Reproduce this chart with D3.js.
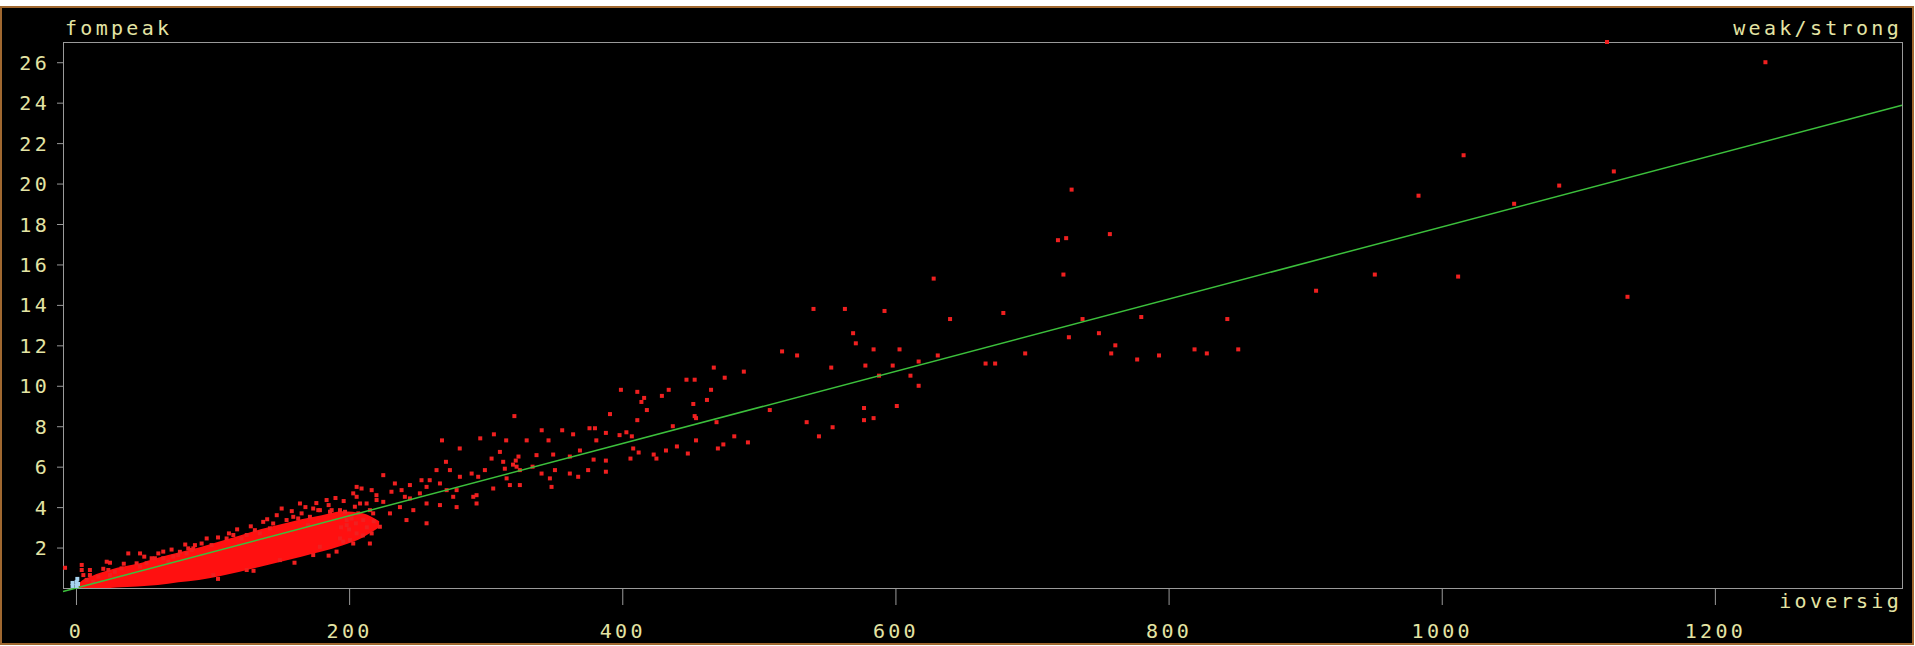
<!DOCTYPE html>
<html>
<head>
<meta charset="utf-8">
<script src="https://cdn.jsdelivr.net/npm/d3@7"></script>
<style>
  body { margin: 0; background: #fff; }
  text { font-family: "DejaVu Sans Mono", monospace; font-size: 20px; letter-spacing: 3.3px; fill: #e4e4a4; }
</style>
</head>
<body>
<div id="container"></div>
<script>
// strong reflections: ioversig (x) vs fompeak (y)
var strongX = [-8, 4.2, 4.2, 5.4, 7.8, 10.2, 10.2, 12.7, 16.3, 20, 22.5, 23.7, 24.9, 24.9, 28.5, 33.4, 35, 38.3, 44.4, 46.9, 46.9, 50, 51.7,
  55.4, 57.8, 60.3, 63.9, 63.9, 67.6, 70, 71.2, 74.9, 76.1, 80, 81, 82.2, 84.7, 85.9, 87.1, 92, 95.7, 99.3, 100.5, 104, 104, 110.3, 112, 115.2, 118, 121.3,
  125, 125, 128, 130, 131, 134.7, 137.1, 140, 142, 144.4, 147, 149.3, 150.6, 154.2, 158, 159.1, 160, 162.7, 164, 165.2, 168, 170, 171.3, 173.7, 173.7, 176, 177.4, 178.6,
  178.6, 183.5, 185, 185, 186, 187.2, 190, 190.8, 193.3, 193.3, 194, 195.7, 196, 197, 198.2, 198.2, 200, 200.6, 201.8, 203, 203, 204.2, 205, 205.5,
  205.5, 205.5, 206.7, 208, 209.1, 210, 210.3, 212.8, 213, 215.2, 215.2, 216.5, 216.5, 217.6, 218, 220, 220.1, 222.5,
  225, 225, 229.9, 231, 233.5, 237.2, 238.4, 240.8, 242, 244.5, 244.5, 247, 251.8, 253, 256.7, 256.7, 256.7, 259, 264, 266.5,
  266.5, 268, 270.9, 271.4, 273.8, 276.2, 278.7, 278.7, 281, 281.1, 289.7, 290.9, 293.3, 293.3, 294.5, 296, 299.4, 304.3, 305.5, 306,
  310.4, 312.8, 314, 315, 315.3, 317.7, 320, 321, 322, 322.6, 324, 325, 325, 330, 334.3, 337.2, 340.9, 341, 346, 347,
  348.2, 349.4, 350.7, 356, 361.6, 361.6, 364, 367.7, 369, 375, 376, 379, 380, 381,
  388, 388, 388, 391, 398, 399, 403, 406, 407, 408, 411, 411, 412, 414, 416, 418, 423, 425, 429, 432,
  434, 437, 440, 447, 448, 452, 453, 453, 454, 454, 462, 465, 467, 469, 470, 474, 475, 482, 489, 492,
  508, 517, 528, 535, 540, 544, 553, 554, 563, 569, 571, 577, 577, 578, 584, 584, 588, 592, 598, 601,
  603, 611, 617, 617, 628, 631, 640, 666, 673, 679, 695, 719, 723, 725, 727, 729, 737, 749, 757, 758,
  761, 777, 780, 793, 819, 828, 843, 851, 908, 951, 983, 1012, 1016, 1053, 1086, 1121, 1126, 1136, 1237];
var strongY = [1.0, 1.14, 0.89, 0.64, 0.4, 0.89, 0.64, 0.31, 0.56, 0.95, 1.3, 0.89, 0.64, 1.25, 0.8, 0.97, 1.2, 1.71, 1.22, 1.71, 1.05, 1.55, 1.22,
  1.47, 1.47, 1.71, 1.47, 1.8, 1.3, 1.9, 1.55, 1.63, 1.79, 2.15, 1.71, 1.96, 1.88, 1.96, 2.12, 2.2, 2.45, 2.12, 0.64, 2.5, 0.45, 2.45, 2.7, 2.62, 2.9, 2.45,
  2.62, 0.89, 3.05, 0.85, 2.86, 2.7, 3.27, 3.4, 2.95, 3.19, 3.6, 1.38, 3.93, 3.36, 3.8, 3.52, 1.25, 3.44, 4.18, 3.69, 4.0, 3.11, 3.52, 3.93, 1.63, 4.2, 3.85, 3.85,
  2.04, 4.35, 4.1, 1.6, 3.77, 3.85, 4.45, 1.8, 3.85, 2.45, 3.0, 2.29, 4.3, 3.77, 3.36, 3.11, 2.9, 2.37, 3.44, 2.2, 4.68, 4.02, 3.2, 4.51,
  5.0, 2.7, 3.69, 4.18, 4.92, 2.6, 3.36, 4.18, 3.0, 3.85, 2.2, 4.84, 2.7, 3.69, 3.3, 4.59, 4.35, 3.03,
  5.58, 4.26, 3.69, 4.76, 5.17, 4.0, 4.84, 4.51, 3.36, 5.09, 4.43, 3.85, 4.68, 5.33, 5.0, 4.18, 3.2, 5.33, 5.83, 5.17,
  4.1, 7.3, 6.24, 4.84, 5.83, 4.51, 4.84, 4.0, 6.9, 5.5, 5.66, 4.51, 4.59, 4.18, 5.5, 7.4, 5.83, 6.4, 4.92, 7.6,
  6.73, 6.24, 5.9, 7.3, 5.42, 5.09, 6.1, 8.5, 6.3, 6.0, 6.5, 5.83, 5.09, 7.3, 6.0, 6.57, 5.66, 7.8, 7.3, 5.42,
  5.0, 6.6, 5.83, 7.8, 6.5, 5.66, 7.6, 5.5, 6.8, 5.83, 7.9, 6.35, 7.9, 7.3,
  7.67, 6.3, 5.75, 8.6, 7.56, 9.8, 7.7, 6.4, 7.5, 6.9, 9.7, 8.3, 6.7, 9.2, 9.4, 8.8, 6.6, 6.4, 9.5, 6.8,
  9.8, 8.0, 7.0, 10.3, 6.65, 9.1, 10.3, 8.5, 8.4, 7.3, 9.3, 9.8, 10.9, 8.2, 6.9, 7.1, 10.4, 7.5, 10.7, 7.2,
  8.8, 11.7, 11.5, 8.2, 13.8, 7.5, 10.9, 7.95, 13.8, 12.6, 12.1, 8.9, 8.3, 11.0, 11.8, 8.4, 10.5, 13.7, 11.0, 9.0,
  11.8, 10.5, 11.2, 10.0, 15.3, 11.5, 13.3, 11.1, 11.1, 13.6, 11.6, 17.2, 15.5, 17.3, 12.4, 19.7, 13.3, 12.6, 17.5, 11.6,
  12.0, 11.3, 13.4, 11.5, 11.8, 11.6, 13.3, 11.8, 14.7, 15.5, 19.4, 15.4, 21.4, 19.0, 19.9, 27.0, 20.6, 14.4, 26.0];

// saturated core of the cloud near the origin (lower / upper edge)
var coreX    = [0, 4, 10, 20, 30, 45, 60, 75, 90, 105, 120, 135, 150, 165, 180, 195, 210, 222];
var coreLow  = [0.0, 0.0, 0.0, 0.0, 0.03, 0.08, 0.15, 0.28, 0.4, 0.58, 0.8, 1.05, 1.3, 1.55, 1.8, 2.1, 2.5, 3.0];
var coreHigh = [0.05, 0.35, 0.55, 0.8, 1.0, 1.2, 1.5, 1.75, 2.0, 2.3, 2.6, 2.9, 3.15, 3.4, 3.6, 3.8, 3.7, 3.3];

// weak reflections (light blue, at the origin)
var weakX = [-2.5, -2.5, 0.5, 0.5, 1.0, 1.5];
var weakY = [0.1, 0.25, 0.1, 0.3, 0.45, 0.2];

// fitted line
var fitX = [-9.5, 1337];
var fitY = [-0.17, 23.87];

var xTicks = [0, 200, 400, 600, 800, 1000, 1200];
var yTicks = [2, 4, 6, 8, 10, 12, 14, 16, 18, 20, 22, 24, 26];

var W = 1915, H = 646;
var box = {left: 63, right: 1902, top: 42, bottom: 588};

var svg = d3.select("#container")
  .append("svg")
    .attr("width", W)
    .attr("height", H);

// outer panel
svg.append("rect")
  .attr("x", 1).attr("y", 7)
  .attr("width", W - 3).attr("height", H - 9)
  .attr("fill", "#000")
  .attr("stroke", "#a06830")
  .attr("stroke-width", 2);

var x = d3.scaleLinear().domain([-9.5, 1337]).range([box.left, box.right]);
var y = d3.scaleLinear().domain([0, 27]).range([box.bottom, box.top]);

// axes
var gx = svg.append("g")
  .attr("transform", "translate(0," + box.bottom + ")")
  .call(d3.axisBottom(x).tickValues(xTicks).tickSize(17).tickFormat(d3.format("d")));
gx.selectAll("text").attr("y", 50).attr("dy", null);

var gy = svg.append("g")
  .attr("transform", "translate(" + box.left + ",0)")
  .call(d3.axisLeft(y).tickValues(yTicks).tickSize(6));
gy.selectAll("text").attr("x", -13).attr("dy", "0.35em");

svg.selectAll(".domain").remove();
svg.selectAll(".tick line").attr("stroke", "#9a9a9a");
svg.selectAll(".tick text").attr("fill", "#e4e4a4")
  .attr("font-family", null).attr("font-size", null);

// plot frame
svg.append("rect")
  .attr("x", box.left + 0.5).attr("y", box.top + 0.5)
  .attr("width", box.right - box.left).attr("height", box.bottom - box.top)
  .attr("fill", "none")
  .attr("stroke", "#9a9a9a")
  .attr("stroke-width", 1);

// dense core
var core = coreX.map(function (d, i) { return {x: d, lo: coreLow[i], hi: coreHigh[i]}; });
svg.append("path")
  .datum(core)
  .attr("fill", "#ff1010")
  .attr("d", d3.area()
    .curve(d3.curveMonotoneX)
    .x(function (d) { return x(d.x); })
    .y0(function (d) { return y(d.lo); })
    .y1(function (d) { return y(d.hi); }));

// strong points
var strong = strongX.map(function (d, i) { return {x: d, y: strongY[i]}; });
svg.selectAll("rect.strong")
  .data(strong)
  .enter()
  .append("rect")
    .attr("class", "strong")
    .attr("x", function (d) { return x(d.x) - 2; })
    .attr("y", function (d) { return y(d.y) - 2; })
    .attr("width", 4)
    .attr("height", 4)
    .attr("fill", "#f02020");

// fit line
svg.append("path")
  .datum(fitX.map(function (d, i) { return [d, fitY[i]]; }))
  .attr("fill", "none")
  .attr("stroke", "#3cc03c")
  .attr("stroke-width", 1.5)
  .attr("d", d3.line()
    .x(function (d) { return x(d[0]); })
    .y(function (d) { return y(d[1]); }));

// weak points
var weak = weakX.map(function (d, i) { return {x: d, y: weakY[i]}; });
svg.selectAll("rect.weak")
  .data(weak)
  .enter()
  .append("rect")
    .attr("class", "weak")
    .attr("x", function (d) { return x(d.x) - 2; })
    .attr("y", function (d) { return y(d.y) - 2; })
    .attr("width", 4)
    .attr("height", 4)
    .attr("fill", "#a8d4f0");

// labels
svg.append("text").attr("x", 65).attr("y", 35).text("fompeak");
svg.append("text").attr("x", 1902).attr("y", 35).attr("text-anchor", "end").text("weak/strong");
svg.append("text").attr("x", 1902).attr("y", 608).attr("text-anchor", "end").text("ioversig");
</script>
</body>
</html>
